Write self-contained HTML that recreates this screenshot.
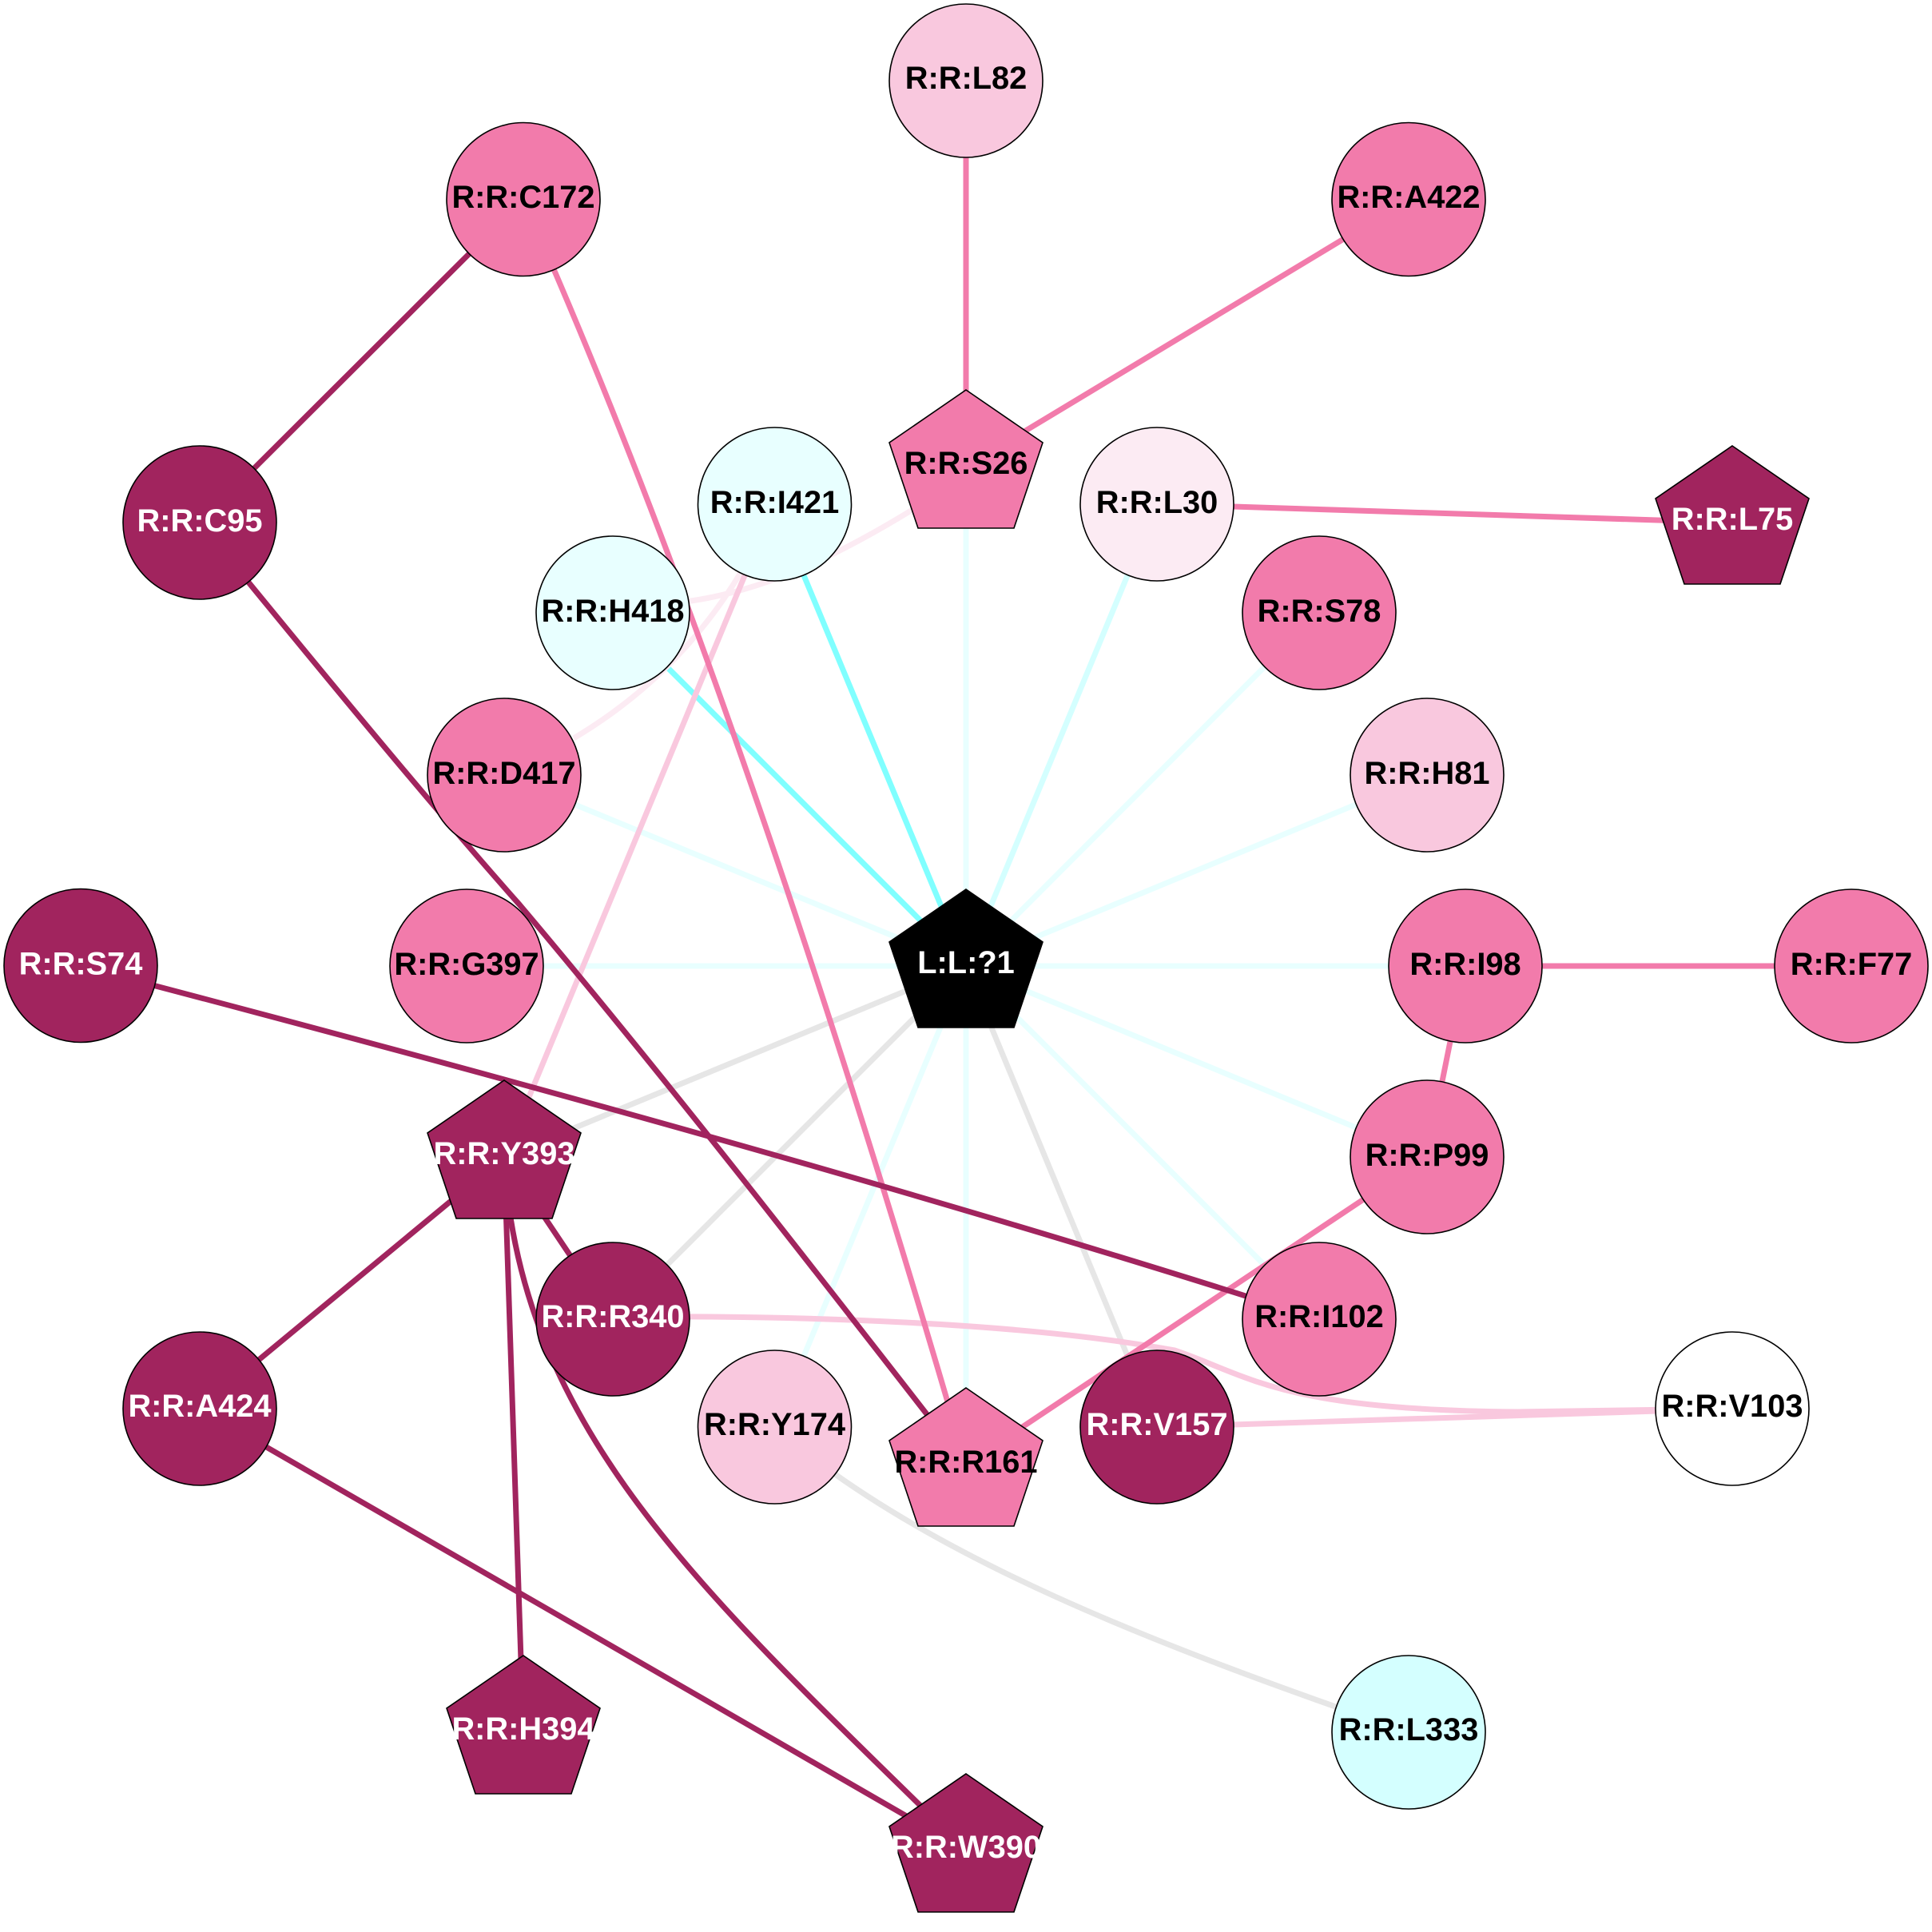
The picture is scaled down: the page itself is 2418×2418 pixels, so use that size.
<!DOCTYPE html>
<html>
<head>
<meta charset="utf-8">
<style>
html,body{margin:0;padding:0;background:#fff;}
svg{display:block;}
text{font-family:"Liberation Sans",Arial,sans-serif;font-weight:bold;font-size:39.8px;text-anchor:middle;}
.n{stroke:#000;stroke-width:1.6;}
.e{fill:none;stroke-width:7;stroke-linejoin:round;}
.p{stroke:#f27bab;}
.d{stroke:#a1245e;}
.lp{stroke:#f9c8de;}
.vp{stroke:#fcebf3;}
.g{stroke:#e6e6e6;}
.c{stroke:#80ffff;}
.lc{stroke:#d4ffff;}
.vc{stroke:#e8ffff;}
.w{fill:#fff;}
</style>
</head>
<body>
<svg width="2418" height="2418" viewBox="0 0 2418 2418" xmlns="http://www.w3.org/2000/svg">
<rect width="2418" height="2418" fill="#fff"/>
<!-- edges to ligand -->
<path class="e vc" d="M1209 584L1209 1833"/>
<path class="e vc" d="M1650 767L1209 1209"/>
<path class="e vc" d="M1786 970L1209 1209"/>
<path class="e vc" d="M630 970L1209 1209"/>
<path class="e vc" d="M583 1209L1834 1209"/>
<path class="e vc" d="M1786 1448L1209 1209"/>
<path class="e vc" d="M1650 1651L1209 1209"/>
<path class="e vc" d="M969 1786L1209 1209"/>
<path class="e lc" d="M1448 631L1209 1209"/>
<path class="e g" d="M631 1448L1209 1209"/>
<path class="e g" d="M767 1651L1209 1209"/>
<path class="e g" d="M1448 1786L1209 1209"/>
<path class="e c" d="M969 631L1209 1209"/>
<path class="e c" d="M767 767L1209 1209"/>
<!-- light residue edges -->
<path class="e vp" d="M767 767L865 752C960 738 1050 695 1150 633"/>
<path class="e vp" d="M718 924C800 875 870 810 925 720L969 631"/>
<path class="e lp" d="M969 631L631 1448"/>
<path class="e lp" d="M767 1648C1000 1646 1280 1655 1470 1690C1560 1720 1600 1765 1900 1767L2168 1763"/>
<path class="e lp" d="M1448 1786L2168 1763"/>
<path class="e g" d="M969 1786C1160 1950 1450 2060 1763 2168"/>
<!-- strong edges -->
<path class="e p" d="M1209 100L1209 584"/>
<path class="e p" d="M1763 250L1209 584"/>
<path class="e p" d="M1448 631L2168 654"/>
<path class="e p" d="M1834 1209L2318 1209"/>
<path class="e p" d="M1834 1209L1786 1448"/>
<path class="e p" d="M1786 1448L1209 1833"/>
<path class="e p" d="M655 250C840 664 1024 1197 1209 1833"/>
<path class="e d" d="M655 250L250 654"/>
<path class="e d" d="M250 654C400 838 540 1008 650 1132C830 1345 1020 1590 1209 1833"/>
<path class="e d" d="M100 1209C600 1340 1150 1490 1650 1651"/>
<path class="e d" d="M631 1448L767 1651"/>
<path class="e d" d="M631 1448L250 1763"/>
<path class="e d" d="M631 1448L655 2168"/>
<path class="e d" d="M631 1448C650 1800 900 2010 1209 2316"/>
<path class="e d" d="M250 1763C570 1950 890 2130 1209 2316"/>
<!-- nodes -->
<circle class="n" cx="1209" cy="101" r="96" fill="#f9c8de"/><text x="1209" y="111">R:R:L82</text>
<circle class="n" cx="655" cy="249.5" r="96" fill="#f27bab"/><text x="655" y="260">R:R:C172</text>
<circle class="n" cx="1763" cy="249.5" r="96" fill="#f27bab"/><text x="1763" y="260">R:R:A422</text>
<polygon class="n" fill="#f27bab" points="1209,488 1305,554 1269,661 1149,661 1113,554"/><text x="1209" y="593">R:R:S26</text>
<circle class="n" cx="250" cy="654" r="96" fill="#a1245e"/><text class="w" x="250" y="665">R:R:C95</text>
<circle class="n" cx="969.5" cy="631" r="96" fill="#e8ffff"/><text x="969.5" y="642">R:R:I421</text>
<circle class="n" cx="1448" cy="631" r="96" fill="#fcebf3"/><text x="1448" y="642">R:R:L30</text>
<polygon class="n" fill="#a1245e" points="2168,558 2264,624 2228,731 2108,731 2072,624"/><text class="w" x="2168" y="663">R:R:L75</text>
<circle class="n" cx="767" cy="767" r="96" fill="#e8ffff"/><text x="767" y="778">R:R:H418</text>
<circle class="n" cx="1651" cy="767" r="96" fill="#f27bab"/><text x="1651" y="778">R:R:S78</text>
<circle class="n" cx="631" cy="970" r="96" fill="#f27bab"/><text x="631" y="981">R:R:D417</text>
<circle class="n" cx="1786" cy="970" r="96" fill="#f9c8de"/><text x="1786" y="981">R:R:H81</text>
<circle class="n" cx="101" cy="1208.5" r="96" fill="#a1245e"/><text class="w" x="101" y="1219.5">R:R:S74</text>
<circle class="n" cx="584" cy="1209" r="96" fill="#f27bab"/><text x="584" y="1220">R:R:G397</text>
<polygon class="n" fill="#000" points="1209,1113 1305,1179 1269,1286 1149,1286 1113,1179"/><text class="w" x="1209" y="1218">L:L:?1</text>
<circle class="n" cx="1834" cy="1209" r="96" fill="#f27bab"/><text x="1834" y="1220">R:R:I98</text>
<circle class="n" cx="2317" cy="1209" r="96" fill="#f27bab"/><text x="2317" y="1220">R:R:F77</text>
<polygon class="n" fill="#a1245e" points="631,1352 727,1418 691,1525 571,1525 535,1418"/><text class="w" x="631" y="1457">R:R:Y393</text>
<circle class="n" cx="1786" cy="1448" r="96" fill="#f27bab"/><text x="1786" y="1459">R:R:P99</text>
<circle class="n" cx="767" cy="1651" r="96" fill="#a1245e"/><text class="w" x="767" y="1661">R:R:R340</text>
<circle class="n" cx="1651" cy="1651" r="96" fill="#f27bab"/><text x="1651" y="1661">R:R:I102</text>
<circle class="n" cx="250" cy="1763" r="96" fill="#a1245e"/><text class="w" x="250" y="1773">R:R:A424</text>
<circle class="n" cx="2168" cy="1763" r="96" fill="#fff"/><text x="2168" y="1773">R:R:V103</text>
<circle class="n" cx="969.5" cy="1786" r="96" fill="#f9c8de"/><text x="969.5" y="1796">R:R:Y174</text>
<polygon class="n" fill="#f27bab" points="1209,1737 1305,1803 1269,1910 1149,1910 1113,1803"/><text x="1209" y="1843">R:R:R161</text>
<circle class="n" cx="1448" cy="1786" r="96" fill="#a1245e"/><text class="w" x="1448" y="1796">R:R:V157</text>
<polygon class="n" fill="#a1245e" points="655,2072 751,2138 715,2245 595,2245 559,2138"/><text class="w" x="655" y="2177">R:R:H394</text>
<circle class="n" cx="1763" cy="2168" r="96" fill="#d4ffff"/><text x="1763" y="2178">R:R:L333</text>
<polygon class="n" fill="#a1245e" points="1209,2220 1305,2286 1269,2393 1149,2393 1113,2286"/><text class="w" x="1209" y="2325">R:R:W390</text>
</svg>
</body>
</html>
